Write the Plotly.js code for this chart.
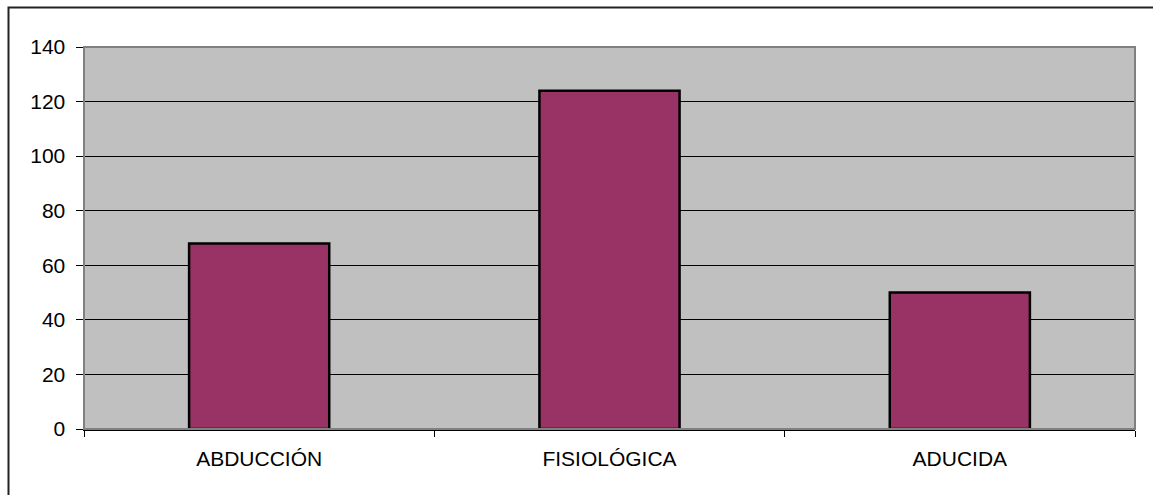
<!DOCTYPE html>
<html>
<head>
<meta charset="utf-8">
<script src="https://cdn.plot.ly/plotly-3.0.1.min.js"></script>
<style>
  html, body { margin: 0; padding: 0; background: #ffffff; }
  #chart { width: 1153px; height: 495px; }
</style>
</head>
<body>
<div id="chart"></div>
<script>
// Categories and counts
const categories = ["ABDUCCIÓN", "FISIOLÓGICA", "ADUCIDA"];
const counts = [68, 124, 50];
const yTicks = [0, 20, 40, 60, 80, 100, 120, 140];

const W = 1153, H = 495;
const M = { l: 84, r: 18, t: 47, b: 66 };
const plotW = W - M.l - M.r;
const plotH = H - M.t - M.b;

// Outer frame in paper coordinates (left and top edges visible)
const frame = {
  x0: (8.5 - M.l) / plotW,
  x1: (W + 10 - M.l) / plotW,
  y0: -(H + 10 - (H - M.b)) / plotH,
  y1: (H - M.b - 7.5) / plotH
};

const trace = {
  type: "bar",
  x: categories,
  y: counts,
  marker: { color: "#993366", line: { color: "#000000", width: 2.5 } },
  hoverinfo: "x+y"
};

const layout = {
  width: W,
  height: H,
  margin: M,
  paper_bgcolor: "#ffffff",
  plot_bgcolor: "#c0c0c0",
  bargap: 0.6,
  showlegend: false,
  font: { family: "Liberation Sans, Arial, sans-serif", size: 21, color: "#000000" },
  xaxis: {
    type: "category",
    range: [-0.5, 2.5],
    tickson: "boundaries",
    ticks: "outside",
    ticklen: 6,
    tickcolor: "#000000",
    tickwidth: 1,
    showline: true,
    linecolor: "#000000",
    linewidth: 1.5,
    showgrid: false,
    zeroline: false,
    tickfont: { size: 21 },
    ticklabelstandoff: 10
  },
  yaxis: {
    range: [0, 140],
    tickvals: yTicks,
    ticks: "outside",
    ticklen: 7,
    tickcolor: "#000000",
    tickwidth: 1,
    showline: true,
    linecolor: "#555555",
    linewidth: 1.5,
    showgrid: true,
    gridcolor: "#000000",
    gridwidth: 1,
    zeroline: false,
    tickfont: { size: 21 },
    ticklabelstandoff: 6
  },
  shapes: [
    {
      type: "rect", xref: "paper", yref: "paper",
      x0: 0, x1: 1, y0: 0, y1: 1,
      line: { color: "#808080", width: 2 },
      layer: "above"
    },
    {
      type: "rect", xref: "paper", yref: "paper",
      x0: frame.x0, x1: frame.x1, y0: frame.y0, y1: frame.y1,
      line: { color: "#222222", width: 2 },
      fillcolor: "rgba(0,0,0,0)",
      layer: "below"
    }
  ]
};

Plotly.newPlot("chart", [trace], layout, { displayModeBar: false, staticPlot: true });
</script>
</body>
</html>
